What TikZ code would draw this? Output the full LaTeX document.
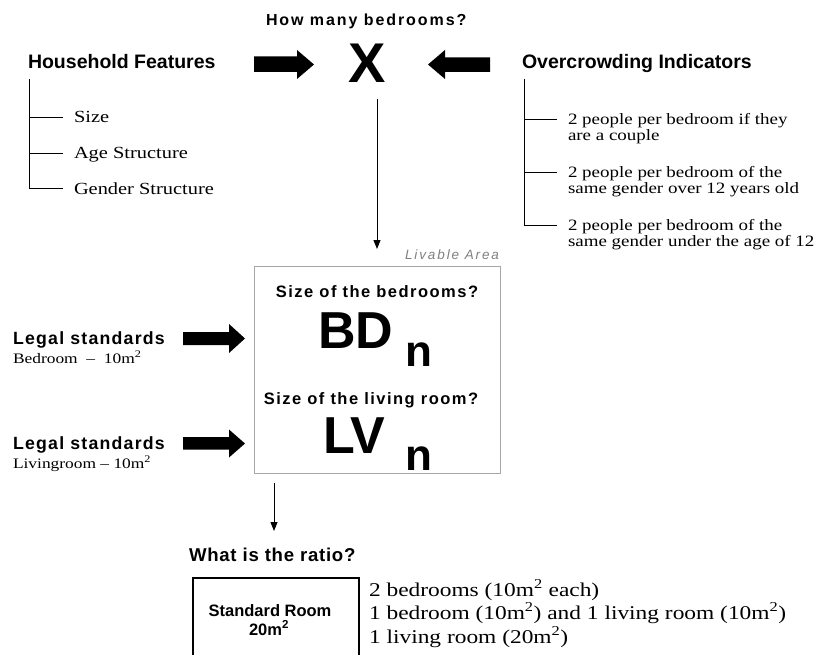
\documentclass[tikz,border=0pt]{standalone}
\usepackage{fontspec}
\setmainfont{Liberation Serif}[FakeStretch=1.2]
\newfontfamily\hv{Liberation Sans}
\usetikzlibrary{arrows.meta}
\newcommand\fs[2]{\fontsize{#1pt}{#2pt}\selectfont}
\newcommand\lsp[1]{\addfontfeature{LetterSpace=#1}}
\definecolor{boxgray}{HTML}{A6A6A6}
\definecolor{labgray}{HTML}{808080}
\begin{document}
\begin{tikzpicture}[x=1pt,y=-1pt,
  every node/.style={inner sep=0pt, outer sep=0pt},
  hdr/.style={font=\hv\bfseries\fs{19.5}{23}, anchor=base west},
  legal/.style={font=\hv\bfseries\fs{17.7}{21}\lsp{7}, anchor=base west},
  legalsub/.style={font=\fs{14.5}{17}, anchor=base west},
  hitem/.style={font=\fs{17}{20}, anchor=base west},
  oitem/.style={font=\fs{15.8}{16}, anchor=base west},
  ritem/.style={font=\fs{19.5}{24}, anchor=base west},
  question/.style={font=\hv\bfseries\fs{16.5}{20}\lsp{9}, anchor=base},
  big/.style={font=\hv\bfseries\fs{52}{56}, anchor=base west},
  sub/.style={font=\hv\bfseries\fs{44}{48}, anchor=base west},
  tree/.style={line width=0.9pt},
  thinarrow/.style={line width=0.9pt, -{Triangle[length=9pt,width=7pt]}},
  fat/.style={fill=black}]
\useasboundingbox (0,0) rectangle (816,655);

% top row
\node[font=\hv\bfseries\fs{16}{19}\lsp{12}, anchor=base west] (q1) at (266,26) {How many bedrooms?};
\node[font=\hv\bfseries\fs{56}{60}, anchor=base] (X) at (367.5,83) {X};
\node[hdr] (hf) at (28,69) {Household Features};
\node[hdr] (oi) at (522,69) {Overcrowding Indicators};

% fat arrows towards X
\fill[fat] (254,56.5) -- (297,56.5) -- (297,50) -- (314,64.5) -- (297,79) -- (297,72) -- (254,72) -- cycle;
\fill[fat] (490,57.5) -- (445,57.5) -- (445,50) -- (428,64.5) -- (445,79) -- (445,72) -- (490,72) -- cycle;

% household tree
\coordinate (ht) at (29,79);
\coordinate (h1) at (63,117);
\coordinate (h2) at (63,153);
\coordinate (h3) at (63,188.5);
\draw[tree] (ht) -- (ht |- h3) -- (h3);
\draw[tree] (ht |- h1) -- (h1);
\draw[tree] (ht |- h2) -- (h2);
\node[hitem] (hs1) at (74,122.6) {Size};
\node[hitem] (hs2) at (74,158.6) {Age Structure};
\node[hitem] (hs3) at (74,194.1) {Gender Structure};

% overcrowding tree
\coordinate (ot) at (524.5,79);
\coordinate (o1) at (557,119);
\coordinate (o2) at (557,172);
\coordinate (o3) at (557,225);
\draw[tree] (ot) -- (ot |- o3) -- (o3);
\draw[tree] (ot |- o1) -- (o1);
\draw[tree] (ot |- o2) -- (o2);
\node[oitem] (oa1) at (568,124.3) {2 people per bedroom if they};
\node[oitem] (ob1) at (568,140.8) {are a couple};
\node[oitem] (oa2) at (568,177.3) {2 people per bedroom of the};
\node[oitem] (ob2) at (568,193.8) {same gender over 12 years old};
\node[oitem] (oa3) at (568,230.3) {2 people per bedroom of the};
\node[oitem] (ob3) at (568,246.8) {same gender under the age of 12};

% arrow from X to livable area
\coordinate (xa) at (377,99);
\coordinate (xb) at (377,249);
\draw[thinarrow] (xa) -- (xb);

% livable area box
\node[draw=boxgray, line width=1pt, minimum width=245.5, minimum height=207] (la) at (377.25,369.5) {};
\node[font=\hv\itshape\fs{13.5}{15}\lsp{14}, text=labgray, anchor=base east] (lab) at (499,259.5) {Livable Area};
\node[question] (q2) at (377,297) {Size of the bedrooms?};
\node[big] (bd) at (318,348) {BD};
\node[sub] (bdn) at (405,366) {n};
\node[question] (q3) at (371,404) {Size of the living room?};
\node[big] (lv) at (323,453) {LV};
\node[sub] (lvn) at (405,470) {n};

% legal standards
\node[legal] (ls1) at (13,344) {Legal standards};
\node[legalsub] (lb1) at (13,363) {Bedroom \ -- \ 10m\textsuperscript{2}};
\node[legal] (ls2) at (13,449) {Legal standards};
\node[legalsub] (lb2) at (13,468) {Livingroom -- 10m\textsuperscript{2}};
\fill[fat] (183,332) -- (229,332) -- (229,324) -- (245,338.5) -- (229,353) -- (229,345) -- (183,345) -- cycle;
\fill[fat] (183,437) -- (229,437) -- (229,429.5) -- (245,443.5) -- (229,457.5) -- (229,449.5) -- (183,449.5) -- cycle;

% arrow to ratio
\coordinate (ra) at (274,483);
\coordinate (rb) at (274,531);
\draw[thinarrow] (ra) -- (rb);
\node[font=\hv\bfseries\fs{18.6}{22}\lsp{4}, anchor=base west] (wr) at (189,561) {What is the ratio?};

% standard room box
\node[draw, line width=1.3pt, minimum width=166, minimum height=110, anchor=north west] (sr) at (193,578) {};
\node[font=\hv\bfseries\fs{16.5}{19}, anchor=base] (srt1) at (270,616) {Standard Room};
\node[font=\hv\bfseries\fs{16.5}{19}, anchor=base] (srt2) at (269,635) {20m\textsuperscript{2}};

% ratio list
\node[ritem] (r1) at (369,596) {2 bedrooms (10m\textsuperscript{2} each)};
\node[ritem] (r2) at (369,619.5) {1 bedroom (10m\textsuperscript{2}) and 1 living room (10m\textsuperscript{2})};
\node[ritem] (r3) at (369,643) {1 living room (20m\textsuperscript{2})};
\end{tikzpicture}
\end{document}
